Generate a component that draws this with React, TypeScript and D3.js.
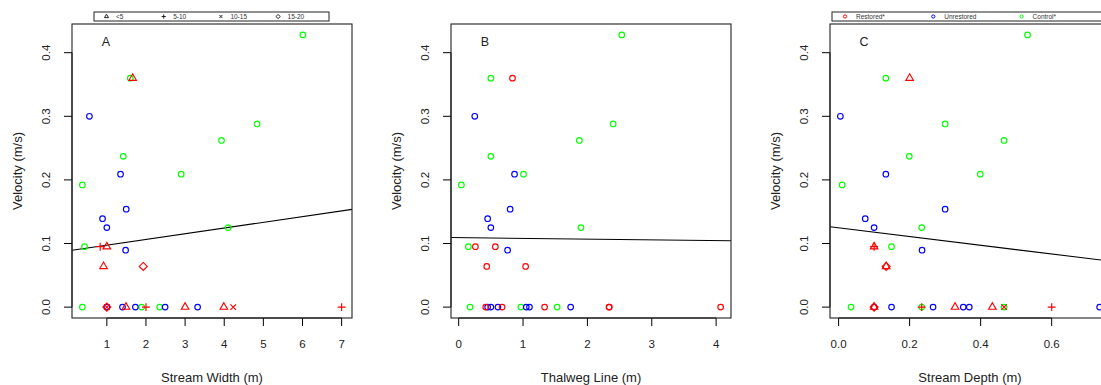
import React from "react";
import * as d3 from "d3";

// Velocity ticks shared by all three panels
const velocityTicks = [0, 0.1, 0.2, 0.3, 0.4];
const widthTicks = [1, 2, 3, 4, 5, 6, 7];
const thalwegTicks = [0, 1, 2, 3, 4];
const depthTicks = [0, 0.2, 0.4, 0.6];

// [x value, velocity (m/s), site group, size-class symbol]
type Obs = [number, number, "C" | "U" | "R", "o" | "tri" | "plus" | "x" | "dia"];

const widthObs: Obs[] = [
  [6.01, 0.428, "C", "o"], [1.6, 0.36, "C", "o"], [4.84, 0.288, "C", "o"], [3.93, 0.262, "C", "o"],
  [1.42, 0.237, "C", "o"], [2.9, 0.209, "C", "o"], [0.375, 0.192, "C", "o"], [4.1, 0.125, "C", "o"],
  [0.43, 0.095, "C", "o"], [0.375, 0, "C", "o"], [1.89, 0, "C", "o"], [2.35, 0, "C", "o"],
  [0.555, 0.3, "U", "o"], [1.35, 0.209, "U", "o"], [1.495, 0.154, "U", "o"], [0.89, 0.139, "U", "o"],
  [1.0, 0.125, "U", "o"], [1.48, 0.0895, "U", "o"], [1.0, 0, "U", "o"], [1.4, 0, "U", "o"],
  [1.73, 0, "U", "o"], [2.49, 0, "U", "o"], [3.32, 0, "U", "o"],
  [1.66, 0.36, "R", "tri"], [0.83, 0.095, "R", "plus"], [1.0, 0.095, "R", "tri"], [0.915, 0.064, "R", "tri"],
  [1.93, 0.064, "R", "dia"], [1.0, 0, "R", "dia"], [1.0, 0, "R", "x"], [1.49, 0, "R", "tri"],
  [2.0, 0, "R", "plus"], [3.0, 0, "R", "tri"], [3.99, 0, "R", "tri"], [4.23, 0, "R", "x"], [7.0, 0, "R", "plus"],
];

const thalwegObs: Obs[] = [
  [2.534, 0.428, "C", "o"], [0.5, 0.36, "C", "o"], [2.4, 0.288, "C", "o"], [1.875, 0.262, "C", "o"],
  [0.5, 0.237, "C", "o"], [1.008, 0.209, "C", "o"], [0.042, 0.192, "C", "o"], [1.9, 0.125, "C", "o"],
  [0.151, 0.095, "C", "o"], [0.177, 0, "C", "o"], [0.966, 0, "C", "o"], [1.53, 0, "C", "o"],
  [0.25, 0.3, "U", "o"], [0.868, 0.209, "U", "o"], [0.8, 0.154, "U", "o"], [0.45, 0.139, "U", "o"],
  [0.5, 0.125, "U", "o"], [0.76, 0.0895, "U", "o"], [0.45, 0, "U", "o"], [0.5, 0, "U", "o"],
  [0.61, 0, "U", "o"], [1.05, 0, "U", "o"], [1.1, 0, "U", "o"], [1.74, 0, "U", "o"],
  [0.836, 0.36, "R", "o"], [0.26, 0.095, "R", "o"], [0.57, 0.095, "R", "o"], [0.436, 0.064, "R", "o"],
  [1.04, 0.064, "R", "o"], [0.42, 0, "R", "o"], [0.675, 0, "R", "o"], [1.335, 0, "R", "o"],
  [2.336, 0, "R", "o"], [2.34, 0, "R", "o"], [4.07, 0, "R", "o"],
];

const depthObs: Obs[] = [
  [0.532, 0.428, "C", "o"], [0.133, 0.36, "C", "o"], [0.3, 0.288, "C", "o"], [0.466, 0.262, "C", "o"],
  [0.199, 0.237, "C", "o"], [0.399, 0.209, "C", "o"], [0.01, 0.192, "C", "o"], [0.234, 0.125, "C", "o"],
  [0.149, 0.095, "C", "o"], [0.035, 0, "C", "o"], [0.234, 0, "C", "o"], [0.466, 0, "C", "o"],
  [0.005, 0.3, "U", "o"], [0.133, 0.209, "U", "o"], [0.3, 0.154, "U", "o"], [0.075, 0.139, "U", "o"],
  [0.1, 0.125, "U", "o"], [0.235, 0.0895, "U", "o"], [0.1, 0, "U", "o"], [0.149, 0, "U", "o"],
  [0.266, 0, "U", "o"], [0.351, 0, "U", "o"], [0.368, 0, "U", "o"], [0.735, 0, "U", "o"],
  [0.2, 0.36, "R", "tri"], [0.1, 0.095, "R", "tri"], [0.1, 0.095, "R", "plus"], [0.134, 0.064, "R", "tri"],
  [0.134, 0.064, "R", "dia"], [0.1, 0, "R", "tri"], [0.1, 0, "R", "dia"], [0.234, 0, "R", "plus"],
  [0.328, 0, "R", "tri"], [0.433, 0, "R", "tri"], [0.466, 0, "R", "x"], [0.6, 0, "R", "plus"],
];

// Fitted lines: [intercept, slope]
const widthFit = [0.0884, 0.00898];
const thalwegFit = [0.1093, -0.0012];
const depthFit = [0.1247, -0.0686];

const sizeClasses = ["<5", "5-10", "10-15", "15-20"];
const sizeSymbols = ["tri", "plus", "x", "dia"];
const groupNames = ["Restored*", "Unrestored", "Control*"];
const groupKeys = ["R", "U", "C"];

const groupColor: Record<string, string> = { R: "#FF0000", U: "#0000FF", C: "#00FF00" };
const FONT = "'Liberation Sans', Arial, Helvetica, sans-serif";

const PLOT_TOP = 24;
const PLOT_BOTTOM = 318;
const PLOT_W = 280;

function rRange(vals: number[]): [number, number] {
  const [lo, hi] = d3.extent(vals) as [number, number];
  const e = (hi - lo) * 0.04;
  return [lo - e, hi + e];
}

function Symbol({ shape, x, y, color, r = 2.8, sw = 1.15 }: { shape: string; x: number; y: number; color: string; r?: number; sw?: number }) {
  const common = { fill: "none", stroke: color, strokeWidth: sw };
  if (shape === "tri") {
    const t0 = 1.5551 * r, t1 = 1.3468 * r, t2 = 0.7776 * r;
    return <path d={`M${x},${y - t0}L${x + t1},${y + t2}L${x - t1},${y + t2}Z`} {...common} />;
  }
  if (shape === "plus") {
    const a = Math.SQRT2 * r;
    return <path d={`M${x - a},${y}H${x + a}M${x},${y - a}V${y + a}`} {...common} />;
  }
  if (shape === "x") {
    return <path d={`M${x - r},${y - r}L${x + r},${y + r}M${x - r},${y + r}L${x + r},${y - r}`} {...common} />;
  }
  if (shape === "dia") {
    const a = Math.SQRT2 * r;
    return <path d={`M${x},${y - a}L${x + a},${y}L${x},${y + a}L${x - a},${y}Z`} {...common} />;
  }
  return <circle cx={x} cy={y} r={r} {...common} />;
}

const allVelocities = [...widthObs, ...thalwegObs, ...depthObs].map((d) => d[1]);
const yScale = d3.scaleLinear().domain(rRange(allVelocities)).range([PLOT_BOTTOM, PLOT_TOP]);

function Panel({ left, obs, ticks, fmt, xTitle, letter, fit }: {
  left: number; obs: Obs[]; ticks: number[]; fmt: (n: number) => string; xTitle: string; letter: string; fit: number[];
}) {
  const x = d3.scaleLinear().domain(rRange(obs.map((d) => d[0]))).range([left, left + PLOT_W]);
  const [d0, d1] = x.domain();
  const clipId = `clip-${letter}`;
  const order = ["C", "U", "R"];
  const sorted = order.flatMap((g) => obs.filter((d) => d[2] === g));
  const midY = (PLOT_TOP + PLOT_BOTTOM) / 2;
  return (
    <g>
      <clipPath id={clipId}>
        <rect x={left} y={PLOT_TOP} width={PLOT_W} height={PLOT_BOTTOM - PLOT_TOP} />
      </clipPath>
      {/* y axis */}
      <line x1={left} x2={left} y1={yScale(velocityTicks[0])} y2={yScale(velocityTicks[velocityTicks.length - 1])} stroke="#000" />
      {velocityTicks.map((t) => (
        <g key={t}>
          <line x1={left - 8} x2={left} y1={yScale(t)} y2={yScale(t)} stroke="#000" />
          <text transform={`translate(${left - 22},${yScale(t)}) rotate(-90)`} textAnchor="middle" fontSize={11.5} fontFamily={FONT} fill="#222">
            {d3.format(".1f")(t)}
          </text>
        </g>
      ))}
      {/* x axis */}
      <line x1={x(ticks[0])} x2={x(ticks[ticks.length - 1])} y1={PLOT_BOTTOM} y2={PLOT_BOTTOM} stroke="#000" />
      {ticks.map((t) => (
        <g key={t}>
          <line x1={x(t)} x2={x(t)} y1={PLOT_BOTTOM} y2={PLOT_BOTTOM + 8} stroke="#000" />
          <text x={x(t)} y={PLOT_BOTTOM + 30} textAnchor="middle" fontSize={11.5} fontFamily={FONT} fill="#222">
            {fmt(t)}
          </text>
        </g>
      ))}
      <text x={left + PLOT_W / 2} y={PLOT_BOTTOM + 64} textAnchor="middle" fontSize={13} fontFamily={FONT} fill="#222">
        {xTitle}
      </text>
      <text transform={`translate(${left - 50},${midY}) rotate(-90)`} textAnchor="middle" fontSize={13} fontFamily={FONT} fill="#222">
        Velocity (m/s)
      </text>
      <text x={left + 34} y={PLOT_TOP + 22} textAnchor="middle" fontSize={12.5} fontFamily={FONT} fill="#222">
        {letter}
      </text>
      {/* fitted line */}
      <line
        x1={x(d0)} y1={yScale(fit[0] + fit[1] * d0)} x2={x(d1)} y2={yScale(fit[0] + fit[1] * d1)}
        stroke="#000" strokeWidth={1.1} clipPath={`url(#${clipId})`}
      />
      {sorted.map((d, i) => (
        <Symbol key={i} shape={d[3]} x={x(d[0])} y={yScale(d[1])} color={groupColor[d[2]]} />
      ))}
      <rect x={left} y={PLOT_TOP} width={PLOT_W} height={PLOT_BOTTOM - PLOT_TOP} fill="none" stroke="#222" strokeWidth={1.1} />
    </g>
  );
}

export default function App() {
  const leftA = 72, leftB = 451, leftC = 830;
  return (
    <svg width={1101} height={385} style={{ position: "absolute", left: 0, top: 0, background: "#fff" }}>
      <rect width={1101} height={385} fill="#fff" />
      <Panel left={leftA} obs={widthObs} ticks={widthTicks} fmt={d3.format("d")} xTitle="Stream Width (m)" letter="A" fit={widthFit} />
      <Panel left={leftB} obs={thalwegObs} ticks={thalwegTicks} fmt={d3.format("d")} xTitle="Thalweg Line (m)" letter="B" fit={thalwegFit} />
      <Panel left={leftC} obs={depthObs} ticks={depthTicks} fmt={d3.format(".1f")} xTitle="Stream Depth (m)" letter="C" fit={depthFit} />

      {/* size-class legend */}
      <g>
        <rect x={94} y={12} width={235} height={9} fill="#fff" stroke="#222" strokeWidth={1} />
        {sizeClasses.map((lab, i) => (
          <g key={lab}>
            <Symbol shape={sizeSymbols[i]} x={106.5 + i * 57.2} y={16.5} color="#222" r={1.5} sw={1} />
            <text x={116 + i * 57.2} y={18.8} fontSize={6.5} fontFamily={FONT} fill="#333">{lab}</text>
          </g>
        ))}
      </g>

      {/* site-group legend */}
      <g>
        <rect x={832} y={12} width={290} height={9} fill="#fff" stroke="#222" strokeWidth={1} />
        {groupNames.map((lab, i) => (
          <g key={lab}>
            <Symbol shape="o" x={845 + i * 88.3} y={16.5} color={groupColor[groupKeys[i]]} r={1.6} sw={1} />
            <text x={856 + i * 88.3} y={18.8} fontSize={6.5} fontFamily={FONT} fill="#333">{lab}</text>
          </g>
        ))}
      </g>
    </svg>
  );
}
